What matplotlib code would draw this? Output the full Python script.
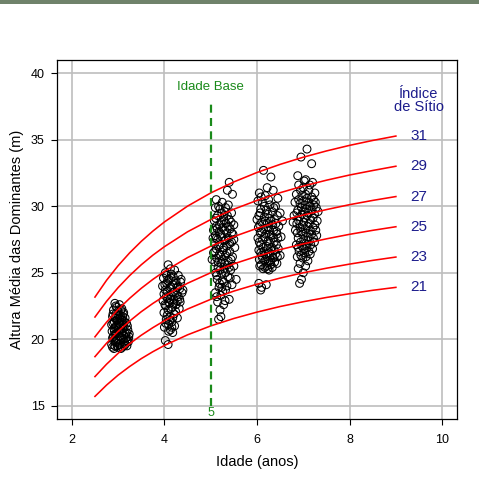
import matplotlib
matplotlib.use("Agg")
import matplotlib.pyplot as plt
from matplotlib.patches import Rectangle

plt.rcParams['font.family'] = ['Liberation Sans', 'DejaVu Sans']

# ---- data ----
site_index = [21, 23, 25, 27, 29, 31]
curve_ages = [2.5, 2.75, 3.0, 3.25, 3.5, 3.75, 4.0, 4.5, 5.0, 5.5, 6.0, 6.5, 7.0, 7.5, 8.0, 8.5, 9.0]
h21 = [15.70, 16.55, 17.30, 17.95, 18.54, 19.06, 19.53, 20.33, 21.00, 21.56, 22.04, 22.46, 22.82, 23.14, 23.42, 23.68, 23.90]
h23 = [17.19, 18.12, 18.94, 19.66, 20.30, 20.87, 21.39, 22.27, 23.00, 23.62, 24.14, 24.60, 25.00, 25.34, 25.65, 25.93, 26.18]
h25 = [18.69, 19.70, 20.59, 21.37, 22.07, 22.69, 23.25, 24.21, 25.00, 25.67, 26.24, 26.74, 27.17, 27.55, 27.89, 28.19, 28.46]
h27 = [20.18, 21.28, 22.24, 23.08, 23.83, 24.50, 25.10, 26.14, 27.00, 27.72, 28.34, 28.88, 29.34, 29.75, 30.12, 30.44, 30.73]
h29 = [21.67, 22.85, 23.88, 24.79, 25.60, 26.32, 26.96, 28.08, 29.00, 29.78, 30.44, 31.02, 31.52, 31.96, 32.35, 32.69, 33.01]
h31 = [23.17, 24.43, 25.53, 26.50, 27.36, 28.13, 28.82, 30.01, 31.00, 31.83, 32.54, 33.15, 33.69, 34.16, 34.58, 34.95, 35.28]
curves = [h21, h23, h25, h27, h29, h31]

# observed plots (age, height), one list per measurement occasion
obs_age3 = [
    (2.93, 22.7), (3.03, 22.6), (2.97, 22.4), (3.08, 22.3), (2.90, 22.2), (3.00, 22.1), (3.12, 22.0),
    (2.95, 21.9), (3.05, 21.8), (2.88, 21.7), (3.15, 21.6), (2.99, 21.5), (3.09, 21.4), (2.92, 21.3),
    (3.02, 21.2), (3.18, 21.2), (2.86, 21.1), (2.96, 21.0), (3.06, 21.0), (3.13, 20.9), (2.91, 20.8),
    (3.01, 20.7), (3.21, 20.7), (2.87, 20.6), (2.97, 20.5), (3.08, 20.5), (3.16, 20.4), (2.93, 20.3),
    (3.03, 20.2), (3.23, 20.2), (2.88, 20.1), (2.99, 20.0), (3.11, 20.0), (3.19, 19.9), (2.94, 19.8),
    (3.05, 19.7), (2.86, 19.6), (3.15, 19.6), (2.98, 19.5), (3.09, 19.4), (2.91, 19.3), (3.22, 19.8),
    (3.04, 21.6), (2.94, 20.9), (3.10, 21.2), (3.17, 20.1), (2.90, 19.9), (3.00, 19.4), (3.13, 19.5),
    (3.24, 20.4), (2.95, 22.5), (3.06, 22.2), (2.89, 21.9), (3.00, 21.8), (3.10, 21.7), (2.94, 21.6),
    (3.07, 21.5), (2.97, 21.4), (3.14, 21.3), (2.89, 21.2), (3.05, 21.1), (3.20, 21.0), (2.99, 20.9),
    (3.10, 20.8), (2.92, 20.6), (3.04, 20.6), (3.18, 20.5), (2.95, 20.4), (3.12, 20.3), (2.90, 20.2),
    (3.07, 20.1), (3.22, 20.0), (2.96, 19.9), (3.14, 19.8), (3.02, 19.6), (2.93, 19.5), (3.19, 19.5),
    (3.06, 19.3), (2.88, 19.4), (3.11, 21.9),
]
obs_age4 = [
    (4.08, 25.6), (4.22, 25.2), (4.02, 25.0), (4.15, 24.9), (4.30, 24.8), (3.98, 24.6), (4.10, 24.5),
    (4.25, 24.4), (4.35, 24.3), (4.05, 24.2), (4.18, 24.1), (3.96, 24.0), (4.28, 23.9), (4.12, 23.8),
    (4.02, 23.7), (4.22, 23.6), (4.38, 23.5), (3.99, 23.4), (4.15, 23.3), (4.30, 23.2), (4.07, 23.1),
    (4.20, 23.0), (3.97, 22.9), (4.34, 22.8), (4.11, 22.7), (4.25, 22.6), (4.03, 22.5), (4.17, 22.4),
    (4.32, 22.3), (4.08, 22.2), (3.99, 22.0), (4.21, 21.9), (4.12, 21.7), (4.28, 21.6), (4.04, 21.5),
    (4.16, 21.3), (4.09, 21.1), (4.22, 21.0), (4.00, 20.9), (4.13, 20.7), (4.18, 20.5), (4.02, 19.9),
    (4.08, 19.6), (4.30, 24.0), (4.40, 23.7), (4.05, 24.8), (4.33, 23.0), (4.14, 24.6), (4.13, 25.3),
    (4.19, 24.7), (4.07, 24.4), (4.24, 24.2), (4.01, 24.1), (4.14, 23.9), (4.33, 23.8), (4.06, 23.6),
    (4.19, 23.5), (4.26, 23.3), (4.04, 23.2), (4.13, 23.0), (4.28, 22.9), (4.09, 22.8), (4.20, 22.7),
    (4.01, 22.6), (4.14, 22.3), (4.24, 22.1), (4.06, 21.8), (4.18, 21.6), (4.11, 21.4), (4.03, 21.2),
    (4.16, 20.9), (4.09, 20.6), (4.36, 24.5),
]
obs_age5 = [
    (5.40, 31.8), (5.36, 31.2), (5.47, 30.9), (5.12, 30.5), (5.25, 30.3), (5.38, 30.1), (5.10, 29.9),
    (5.20, 29.8), (5.30, 29.6), (5.45, 29.5), (5.15, 29.3), (5.28, 29.2), (5.40, 29.0), (5.08, 28.9),
    (5.22, 28.8), (5.33, 28.7), (5.50, 28.6), (5.12, 28.5), (5.26, 28.4), (5.42, 28.3), (5.06, 28.2),
    (5.18, 28.1), (5.35, 28.0), (5.48, 27.9), (5.10, 27.8), (5.24, 27.7), (5.38, 27.6), (5.15, 27.5),
    (5.30, 27.4), (5.45, 27.3), (5.08, 27.2), (5.20, 27.1), (5.34, 27.0), (5.52, 26.9), (5.12, 26.8),
    (5.27, 26.7), (5.41, 26.6), (5.06, 26.5), (5.19, 26.4), (5.32, 26.3), (5.47, 26.2), (5.13, 26.1),
    (5.25, 26.0), (5.38, 25.9), (5.09, 25.8), (5.22, 25.7), (5.36, 25.6), (5.50, 25.5), (5.16, 25.4),
    (5.29, 25.3), (5.43, 25.2), (5.11, 25.0), (5.24, 24.9), (5.37, 24.7), (5.14, 24.5), (5.28, 24.3),
    (5.46, 24.1), (5.18, 23.9), (5.32, 23.7), (5.10, 23.5), (5.22, 23.3), (5.40, 23.0), (5.15, 22.8),
    (5.28, 22.6), (5.20, 22.2), (5.22, 21.7), (5.17, 21.5), (5.55, 24.5), (5.50, 27.5), (5.44, 28.8),
    (5.05, 27.6), (5.03, 26.0), (5.17, 30.0), (5.32, 29.9), (5.24, 29.5), (5.36, 29.3), (5.11, 29.1),
    (5.29, 28.9), (5.19, 28.6), (5.38, 28.5), (5.14, 28.3), (5.30, 28.2), (5.45, 28.0), (5.22, 27.9),
    (5.12, 27.6), (5.33, 27.5), (5.41, 27.2), (5.17, 27.0), (5.28, 26.9), (5.09, 26.6), (5.35, 26.5),
    (5.22, 26.3), (5.44, 26.0), (5.16, 25.8), (5.30, 25.7), (5.40, 25.4), (5.20, 25.2), (5.32, 25.0),
    (5.13, 24.8), (5.42, 24.6), (5.25, 24.4), (5.19, 24.2), (5.35, 24.0), (5.26, 23.6), (5.13, 23.2),
    (5.31, 22.9), (5.24, 23.9),
]
obs_age6 = [
    (6.14, 32.7), (6.30, 32.2), (6.22, 31.4), (6.05, 31.0), (6.35, 31.2), (6.18, 30.8), (6.45, 30.6),
    (6.02, 30.4), (6.12, 30.3), (6.28, 30.1), (6.40, 30.0), (6.08, 29.8), (6.20, 29.7), (6.33, 29.6),
    (6.50, 29.5), (6.04, 29.3), (6.16, 29.2), (6.26, 29.1), (6.38, 29.0), (6.10, 28.8), (6.22, 28.7),
    (6.34, 28.6), (6.47, 28.5), (6.03, 28.4), (6.14, 28.3), (6.27, 28.2), (6.42, 28.1), (6.07, 28.0),
    (6.19, 27.9), (6.31, 27.8), (6.52, 27.7), (6.02, 27.6), (6.12, 27.5), (6.24, 27.4), (6.37, 27.3),
    (6.08, 27.1), (6.20, 27.0), (6.32, 26.9), (6.46, 26.8), (6.04, 26.7), (6.15, 26.6), (6.27, 26.5),
    (6.40, 26.4), (6.10, 26.3), (6.22, 26.2), (6.35, 26.1), (6.05, 26.0), (6.17, 25.9), (6.29, 25.8),
    (6.43, 25.7), (6.09, 25.6), (6.21, 25.5), (6.33, 25.4), (6.13, 25.3), (6.26, 25.2), (6.04, 24.2),
    (6.10, 23.9), (6.20, 24.1), (6.08, 23.7), (6.45, 27.6), (6.50, 26.3), (6.55, 28.9), (6.00, 29.0),
    (6.09, 30.7), (6.25, 30.5), (6.16, 30.0), (6.36, 29.9), (6.24, 29.4), (6.07, 29.5), (6.44, 29.3),
    (6.30, 28.9), (6.18, 28.9), (6.41, 28.7), (6.06, 28.6), (6.24, 28.4), (6.36, 28.2), (6.10, 28.1),
    (6.27, 27.9), (6.43, 27.9), (6.16, 27.7), (6.35, 27.6), (6.05, 27.3), (6.28, 27.2), (6.42, 27.1),
    (6.13, 26.9), (6.24, 26.8), (6.37, 26.7), (6.08, 26.5), (6.19, 26.4), (6.31, 26.3), (6.44, 26.2),
    (6.12, 26.1), (6.25, 25.9), (6.38, 25.8), (6.06, 25.5), (6.17, 25.4), (6.30, 25.6), (6.23, 25.3),
]
obs_age7 = [
    (7.08, 34.3), (6.95, 33.7), (7.18, 33.2), (6.88, 32.3), (7.05, 32.0), (7.20, 31.8), (6.90, 31.6),
    (7.00, 31.4), (7.12, 31.2), (7.25, 31.0), (6.85, 30.9), (6.97, 30.8), (7.08, 30.6), (7.22, 30.5),
    (6.82, 30.3), (6.93, 30.2), (7.04, 30.1), (7.15, 30.0), (7.28, 29.9), (6.88, 29.7), (7.00, 29.6),
    (7.11, 29.5), (7.24, 29.4), (6.80, 29.3), (6.92, 29.2), (7.03, 29.1), (7.16, 29.0), (7.30, 28.9),
    (6.86, 28.7), (6.98, 28.6), (7.09, 28.5), (7.21, 28.4), (6.83, 28.2), (6.95, 28.1), (7.06, 28.0),
    (7.18, 27.9), (7.29, 27.8), (6.89, 27.6), (7.01, 27.5), (7.13, 27.4), (7.24, 27.3), (6.85, 27.1),
    (6.97, 27.0), (7.08, 26.9), (7.20, 26.8), (6.91, 26.6), (7.03, 26.5), (7.15, 26.4), (6.87, 26.2),
    (6.99, 26.1), (7.10, 25.9), (6.93, 25.7), (7.05, 25.5), (6.89, 25.3), (7.00, 25.0), (6.96, 24.5),
    (6.92, 24.2), (7.26, 30.3), (7.32, 29.6), (6.78, 28.8), (7.27, 28.2), (7.02, 31.9), (7.14, 31.6),
    (6.94, 31.2), (7.05, 30.9), (7.18, 30.7), (6.90, 30.5), (7.01, 30.4), (7.12, 30.3), (7.23, 30.1),
    (6.96, 29.9), (7.07, 29.8), (7.19, 29.7), (6.86, 29.5), (6.97, 29.4), (7.08, 29.3), (7.21, 29.1),
    (6.90, 28.9), (7.01, 28.8), (7.13, 28.7), (7.25, 28.6), (6.93, 28.4), (7.04, 28.3), (7.15, 28.2),
    (6.87, 28.0), (6.99, 27.9), (7.10, 27.7), (7.22, 27.6), (6.94, 27.3), (7.05, 27.2), (7.16, 27.1),
    (6.89, 26.9), (7.01, 26.8), (7.12, 26.6), (6.95, 26.3), (7.06, 26.2),
]
observations = [obs_age3, obs_age4, obs_age5, obs_age6, obs_age7]

base_age = 5
x_ticks = [2, 4, 6, 8, 10]
y_ticks = [15, 20, 25, 30, 35, 40]

# ---- figure ----
fig = plt.figure(figsize=(4.79, 4.87), dpi=100)
fig.patches.append(Rectangle((0, 1 - 4 / 487), 1, 4 / 487, transform=fig.transFigure,
                             facecolor='#6f826b', edgecolor='none'))
ax = fig.add_axes([57 / 479, 68 / 487, 400 / 479, 359 / 487])
ax.set_xlim(1.68, 10.32)
ax.set_ylim(14, 41)
ax.set_xticks(x_ticks)
ax.set_yticks(y_ticks)
ax.grid(True, color='#bebebe', linewidth=1.2)
ax.set_axisbelow(True)
ax.tick_params(direction='out', length=4, width=0.8, labelsize=9, colors='black')
ax.tick_params(axis='x', pad=7)
ax.tick_params(axis='y', pad=5)
for s in ax.spines.values():
    s.set_linewidth(0.9)

for grp in observations:
    xs = [p[0] for p in grp]
    ys = [p[1] for p in grp]
    ax.scatter(xs, ys, s=32, facecolors='none', edgecolors='black', linewidths=0.75, zorder=3)

for si, h in zip(site_index, curves):
    ax.plot(curve_ages, h, color='red', linewidth=1.15, zorder=4)
    ax.text(9.5, h[-1], str(si), color='#1c1c8c', fontsize=11, ha='center', va='center')

ax.text(9.5, 37.95, 'Índice\nde Sítio', color='#1c1c8c', fontsize=10.5, ha='center', va='center',
        linespacing=0.95)

ax.plot([base_age, base_age], [15, 38], color='#1a8a1a', linewidth=1.6, dashes=(3.6, 2.4), zorder=5)
ax.text(base_age, 39.0, 'Idade Base', color='#1a8a1a', fontsize=9.5, ha='center', va='center')
ax.text(base_age, 14.45, str(base_age), color='#1a8a1a', fontsize=9, ha='center', va='center')

ax.set_xlabel('Idade (anos)', fontsize=10.5, labelpad=6)
ax.set_ylabel('Altura Média das Dominantes (m)', fontsize=10.5, labelpad=5)

fig.savefig('out.png', dpi=100)
